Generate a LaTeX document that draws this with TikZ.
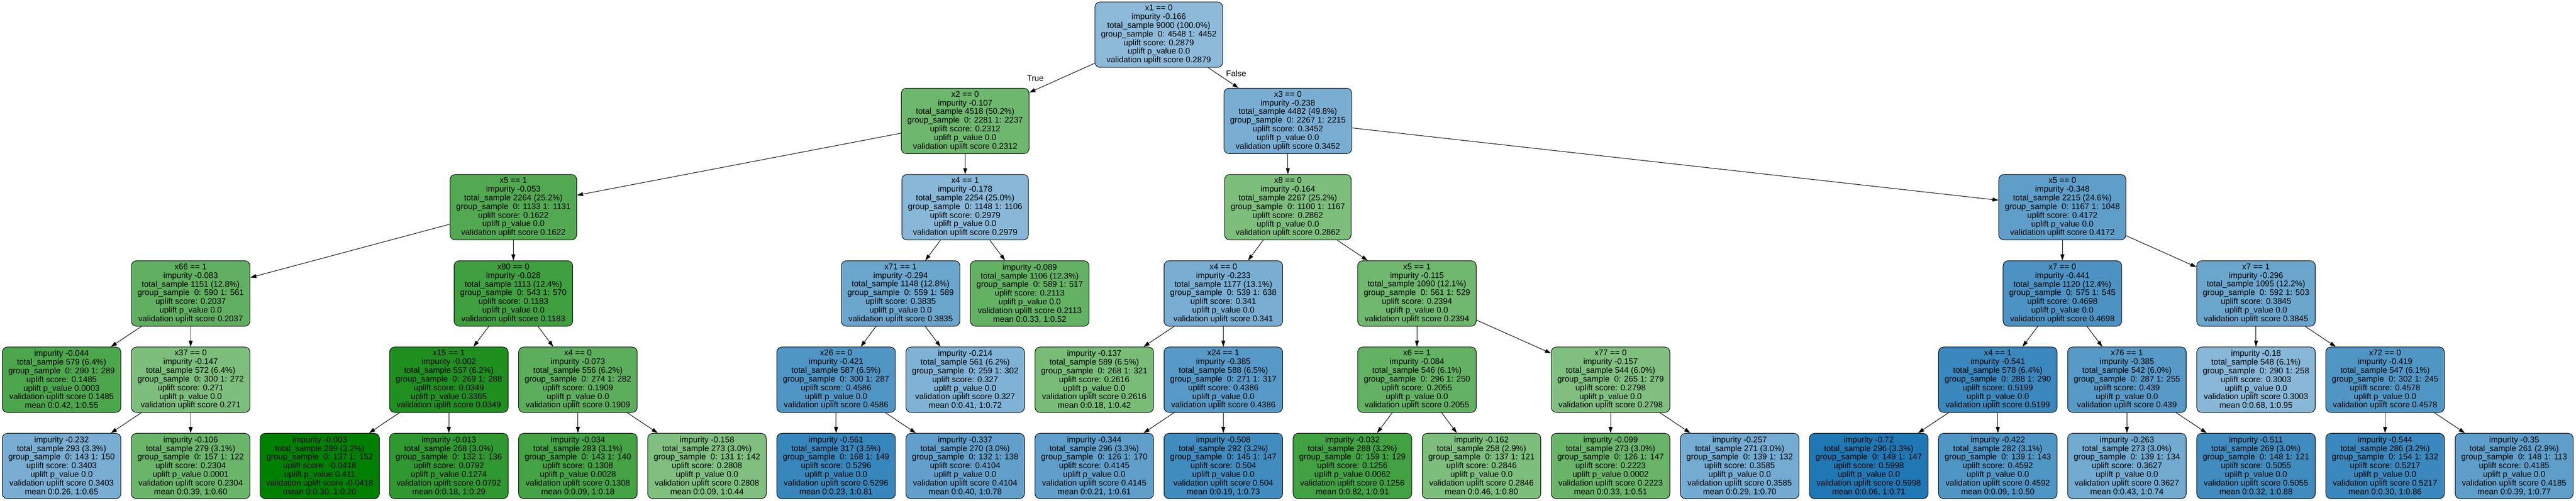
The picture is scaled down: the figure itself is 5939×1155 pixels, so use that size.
\documentclass[tikz,border=0pt]{standalone}
\usepackage{fontspec}
\setmainfont{Liberation Sans}
\usetikzlibrary{arrows.meta}
\definecolor{bb}{RGB}{31,120,180}
\definecolor{gg}{RGB}{0,128,0}
\newcommand{\tfont}{\fontsize{19}{20}\selectfont}
\newcommand{\nbody}[6]{impurity #1\\total\_sample #2\\group\_sample~ 0: #3 1: #4\\uplift score: #5\\uplift p\_value #6\\validation uplift score #5}
\tikzset{
 box/.style={draw=black, line width=1.2pt, rounded corners=12pt, minimum height=151pt, inner xsep=14pt, inner ysep=0pt, align=center, font=\tfont},
 bn/.style={box, fill=bb!#1!white},
 gn/.style={box, fill=gg!#1!white},
 edge/.style={draw=black, line width=1.2pt, -{Triangle[length=14pt,width=9pt]}},
 lab/.style={font=\tfont, inner sep=0pt}
}
\begin{document}
\begin{tikzpicture}[x=1pt,y=-1pt]
\useasboundingbox (0,0) rectangle (5939,1155);
% level 0
\node[bn=51] (n0) at ({142+297.6*8.5},80) {x1 == 0\\\nbody{-0.166}{9000 (100.0\%)}{4548}{4452}{0.2879}{0.0}};
% level 1
\node[gn=57] (x2) at ({142+297.6*7},279) {x2 == 0\\\nbody{-0.107}{4518 (50.2\%)}{2281}{2237}{0.2312}{0.0}};
\node[bn=60] (x3) at ({142+297.6*9.5},279) {x3 == 0\\\nbody{-0.238}{4482 (49.8\%)}{2267}{2215}{0.3452}{0.0}};
% level 2
\node[gn=68] (x5a) at ({142+297.6*3.5},478) {x5 == 1\\\nbody{-0.053}{2264 (25.2\%)}{1133}{1131}{0.1622}{0.0}};
\node[bn=53] (x4a) at ({142+297.6*7},478) {x4 == 1\\\nbody{-0.178}{2254 (25.0\%)}{1148}{1106}{0.2979}{0.0}};
\node[gn=51] (x8) at ({142+297.6*9.5},478) {x8 == 0\\\nbody{-0.164}{2267 (25.2\%)}{1100}{1167}{0.2862}{0.0}};
\node[bn=72] (x5b) at ({142+297.6*15.5},478) {x5 == 0\\\nbody{-0.348}{2215 (24.6\%)}{1167}{1048}{0.4172}{0.0}};
% level 3
\node[gn=62] (x66) at ({142+297.6*1},677) {x66 == 1\\\nbody{-0.083}{1151 (12.8\%)}{590}{561}{0.2037}{0.0}};
\node[gn=75] (x80) at ({142+297.6*3.5},677) {x80 == 0\\\nbody{-0.028}{1113 (12.4\%)}{543}{570}{0.1183}{0.0}};
\node[bn=66] (x71) at ({142+297.6*6.5},677) {x71 == 1\\\nbody{-0.294}{1148 (12.8\%)}{559}{589}{0.3835}{0.0}};
\node[gn=61] (l089) at ({142+297.6*7.5},677) {\nbody{-0.089}{1106 (12.3\%)}{589}{517}{0.2113}{0.0}\\mean 0:0.33, 1:0.52};
\node[bn=60] (x4b) at ({142+297.6*9},677) {x4 == 0\\\nbody{-0.233}{1177 (13.1\%)}{539}{638}{0.341}{0.0}};
\node[gn=56] (x5c) at ({142+297.6*10.5},677) {x5 == 1\\\nbody{-0.115}{1090 (12.1\%)}{561}{529}{0.2394}{0.0}};
\node[bn=80] (x7a) at ({142+297.6*15.5},677) {x7 == 0\\\nbody{-0.441}{1120 (12.4\%)}{575}{545}{0.4698}{0.0}};
\node[bn=66] (x7b) at ({142+297.6*17},677) {x7 == 1\\\nbody{-0.296}{1095 (12.2\%)}{592}{503}{0.3845}{0.0}};
% level 4
\node[gn=70] (l044) at ({142+297.6*0},876) {\nbody{-0.044}{579 (6.4\%)}{290}{289}{0.1485}{0.0003}\\mean 0:0.42, 1:0.55};
\node[gn=51] (x37) at ({142+297.6*1},876) {x37 == 0\\\nbody{-0.147}{572 (6.4\%)}{300}{272}{0.271}{0.0}};
\node[gn=88] (x15) at ({142+297.6*3},876) {x15 == 1\\\nbody{-0.002}{557 (6.2\%)}{269}{288}{0.0349}{0.3365}};
\node[gn=64] (x4c) at ({142+297.6*4},876) {x4 == 0\\\nbody{-0.073}{556 (6.2\%)}{274}{282}{0.1909}{0.0}};
\node[bn=78] (x26) at ({142+297.6*6},876) {x26 == 0\\\nbody{-0.421}{587 (6.5\%)}{300}{287}{0.4586}{0.0}};
\node[bn=57] (l214) at ({142+297.6*7},876) {\nbody{-0.214}{561 (6.2\%)}{259}{302}{0.327}{0.0}\\mean 0:0.41, 1:0.72};
\node[gn=53] (l137) at ({142+297.6*8},876) {\nbody{-0.137}{589 (6.5\%)}{268}{321}{0.2616}{0.0}\\mean 0:0.18, 1:0.42};
\node[bn=75] (x24) at ({142+297.6*9},876) {x24 == 1\\\nbody{-0.385}{588 (6.5\%)}{271}{317}{0.4386}{0.0}};
\node[gn=61] (x6) at ({142+297.6*10.5},876) {x6 == 1\\\nbody{-0.084}{546 (6.1\%)}{296}{250}{0.2055}{0.0}};
\node[gn=50] (x77) at ({142+297.6*12},876) {x77 == 0\\\nbody{-0.157}{544 (6.0\%)}{265}{279}{0.2798}{0.0}};
\node[bn=88] (x4d) at ({142+297.6*15},876) {x4 == 1\\\nbody{-0.541}{578 (6.4\%)}{288}{290}{0.5199}{0.0}};
\node[bn=75] (x76) at ({142+297.6*16},876) {x76 == 1\\\nbody{-0.385}{542 (6.0\%)}{287}{255}{0.439}{0.0}};
\node[bn=53] (l18) at ({142+297.6*17},876) {\nbody{-0.18}{548 (6.1\%)}{290}{258}{0.3003}{0.0}\\mean 0:0.68, 1:0.95};
\node[bn=78] (x72) at ({142+297.6*18},876) {x72 == 0\\\nbody{-0.419}{547 (6.1\%)}{302}{245}{0.4578}{0.0}};
% level 5
\node[bn=60] (l232) at ({142+297.6*0},1075) {\nbody{-0.232}{293 (3.3\%)}{143}{150}{0.3403}{0.0}\\mean 0:0.26, 1:0.65};
\node[gn=58] (l106) at ({142+297.6*1},1075) {\nbody{-0.106}{279 (3.1\%)}{157}{122}{0.2304}{0.0001}\\mean 0:0.39, 1:0.60};
\node[gn=100] (l003) at ({142+297.6*2},1075) {\nbody{-0.003}{289 (3.2\%)}{137}{152}{-0.0418}{0.411}\\mean 0:0.30, 1:0.20};
\node[gn=81] (l013) at ({142+297.6*3},1075) {\nbody{-0.013}{268 (3.0\%)}{132}{136}{0.0792}{0.1274}\\mean 0:0.18, 1:0.29};
\node[gn=73] (l034) at ({142+297.6*4},1075) {\nbody{-0.034}{283 (3.1\%)}{143}{140}{0.1308}{0.0028}\\mean 0:0.09, 1:0.18};
\node[gn=50] (l158) at ({142+297.6*5},1075) {\nbody{-0.158}{273 (3.0\%)}{131}{142}{0.2808}{0.0}\\mean 0:0.09, 1:0.44};
\node[bn=89] (l561) at ({142+297.6*6},1075) {\nbody{-0.561}{317 (3.5\%)}{168}{149}{0.5296}{0.0}\\mean 0:0.23, 1:0.81};
\node[bn=70] (l337) at ({142+297.6*7},1075) {\nbody{-0.337}{270 (3.0\%)}{132}{138}{0.4104}{0.0}\\mean 0:0.40, 1:0.78};
\node[bn=71] (l344) at ({142+297.6*8},1075) {\nbody{-0.344}{296 (3.3\%)}{126}{170}{0.4145}{0.0}\\mean 0:0.21, 1:0.61};
\node[bn=85] (l508) at ({142+297.6*9},1075) {\nbody{-0.508}{292 (3.2\%)}{145}{147}{0.504}{0.0}\\mean 0:0.19, 1:0.73};
\node[gn=74] (l032) at ({142+297.6*10},1075) {\nbody{-0.032}{288 (3.2\%)}{159}{129}{0.1256}{0.0062}\\mean 0:0.82, 1:0.91};
\node[gn=51] (l162) at ({142+297.6*11},1075) {\nbody{-0.162}{258 (2.9\%)}{137}{121}{0.2846}{0.0}\\mean 0:0.46, 1:0.80};
\node[gn=59] (l099) at ({142+297.6*12},1075) {\nbody{-0.099}{273 (3.0\%)}{126}{147}{0.2223}{0.0002}\\mean 0:0.33, 1:0.51};
\node[bn=62] (l257) at ({142+297.6*13},1075) {\nbody{-0.257}{271 (3.0\%)}{139}{132}{0.3585}{0.0}\\mean 0:0.29, 1:0.70};
\node[bn=100] (l72) at ({142+297.6*14},1075) {\nbody{-0.72}{296 (3.3\%)}{149}{147}{0.5998}{0.0}\\mean 0:0.06, 1:0.71};
\node[bn=78] (l422) at ({142+297.6*15},1075) {\nbody{-0.422}{282 (3.1\%)}{139}{143}{0.4592}{0.0}\\mean 0:0.09, 1:0.50};
\node[bn=63] (l263) at ({142+297.6*16},1075) {\nbody{-0.263}{273 (3.0\%)}{139}{134}{0.3627}{0.0}\\mean 0:0.43, 1:0.74};
\node[bn=85] (l511) at ({142+297.6*17},1075) {\nbody{-0.511}{269 (3.0\%)}{148}{121}{0.5055}{0.0}\\mean 0:0.32, 1:0.88};
\node[bn=88] (l544) at ({142+297.6*18},1075) {\nbody{-0.544}{286 (3.2\%)}{154}{132}{0.5217}{0.0}\\mean 0:0.30, 1:0.86};
\node[bn=72] (l35) at ({142+297.6*19},1075) {\nbody{-0.35}{261 (2.9\%)}{148}{113}{0.4185}{0.0}\\mean 0:0.39, 1:0.77};
% edges
\draw[edge] (n0) -- (x2);
\draw[edge] (n0) -- (x3);
\node[lab] (tl) at (2387,181) {True};
\node[lab] (fl) at (2850,170) {False};
\draw[edge] (x2) -- (x5a);
\draw[edge] (x2) -- (x4a);
\draw[edge] (x3) -- (x8);
\draw[edge] (x3) -- (x5b);
\draw[edge] (x5a) -- (x66);
\draw[edge] (x5a) -- (x80);
\draw[edge] (x4a) -- (x71);
\draw[edge] (x4a) -- (l089);
\draw[edge] (x8) -- (x4b);
\draw[edge] (x8) -- (x5c);
\draw[edge] (x5b) -- (x7a);
\draw[edge] (x5b) -- (x7b);
\draw[edge] (x66) -- (l044);
\draw[edge] (x66) -- (x37);
\draw[edge] (x80) -- (x15);
\draw[edge] (x80) -- (x4c);
\draw[edge] (x71) -- (x26);
\draw[edge] (x71) -- (l214);
\draw[edge] (x4b) -- (l137);
\draw[edge] (x4b) -- (x24);
\draw[edge] (x5c) -- (x6);
\draw[edge] (x5c) -- (x77);
\draw[edge] (x7a) -- (x4d);
\draw[edge] (x7a) -- (x76);
\draw[edge] (x7b) -- (l18);
\draw[edge] (x7b) -- (x72);
\draw[edge] (x37) -- (l232);
\draw[edge] (x37) -- (l106);
\draw[edge] (x15) -- (l003);
\draw[edge] (x15) -- (l013);
\draw[edge] (x4c) -- (l034);
\draw[edge] (x4c) -- (l158);
\draw[edge] (x26) -- (l561);
\draw[edge] (x26) -- (l337);
\draw[edge] (x24) -- (l344);
\draw[edge] (x24) -- (l508);
\draw[edge] (x6) -- (l032);
\draw[edge] (x6) -- (l162);
\draw[edge] (x77) -- (l099);
\draw[edge] (x77) -- (l257);
\draw[edge] (x4d) -- (l72);
\draw[edge] (x4d) -- (l422);
\draw[edge] (x76) -- (l263);
\draw[edge] (x76) -- (l511);
\draw[edge] (x72) -- (l544);
\draw[edge] (x72) -- (l35);
\end{tikzpicture}
\end{document}
